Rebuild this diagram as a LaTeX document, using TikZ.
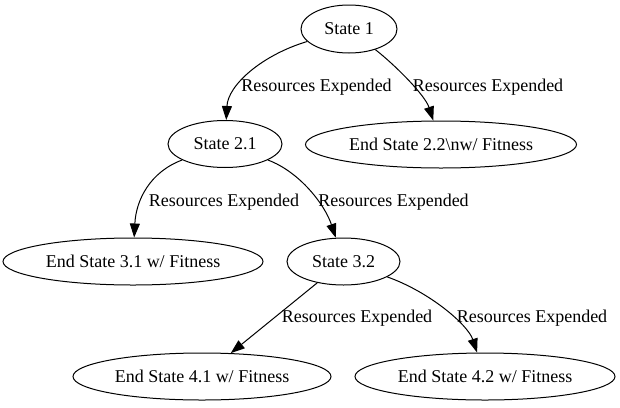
\documentclass[tikz,border=0pt]{standalone}
\usepackage{fontspec}
\setmainfont{Liberation Serif}
\usetikzlibrary{arrows.meta,shapes.geometric}

\tikzset{
  state/.style={draw, ellipse, line width=1pt, inner sep=0pt, minimum height=47pt},
  edge/.style={line width=1pt, -{Triangle[length=14pt,width=10pt]}},
  lbl/.style={inner sep=0pt}
}

\begin{document}
\begin{tikzpicture}[x=1pt, y=-1pt, font=\fontsize{18}{21.6}\selectfont]
  \useasboundingbox (0,0) rectangle (620,407);
  %% states
  \node[state, minimum width=96pt, minimum height=48pt] (s1) at (349,29) {State 1};
  \node[state, minimum width=114pt] (s21) at (225,144) {State 2.1};
  \node[state, minimum width=271pt] (e22) at (441,144.5) {End State 2.2\textbackslash{}nw/ Fitness};
  \node[state, minimum width=260pt] (e31) at (133,261.5) {End State 3.1 w/ Fitness};
  \node[state, minimum width=113pt] (s32) at (343.5,261.5) {State 3.2};
  \node[state, minimum width=258pt] (e41) at (202,376.5) {End State 4.1 w/ Fitness};
  \node[state, minimum width=260pt] (e42) at (485,376.5) {End State 4.2 w/ Fitness};
  %% labels
  \node[lbl] (l1) at (316.5,87) {Resources Expended};
  \node[lbl] (l2) at (488,87) {Resources Expended};
  \node[lbl] (l3) at (224,202) {Resources Expended};
  \node[lbl] (l4) at (393.5,202) {Resources Expended};
  \node[lbl] (l5) at (357,318) {Resources Expended};
  \node[lbl] (l6) at (532,318) {Resources Expended};
  %% edges
  \draw[edge] (s1) .. controls (262,55) and (228,85) .. (s21);
  \draw[edge] (s1) .. controls (395,65) and (425,95) .. (e22);
  \draw[edge] (s21) .. controls (150,172) and (136,200) .. (e31);
  \draw[edge] (s21) .. controls (300,172) and (325,205) .. (s32);
  \draw[edge] (s32) -- (e41);
  \draw[edge] (s32) .. controls (430,292) and (468,325) .. (e42);
\end{tikzpicture}
\end{document}
